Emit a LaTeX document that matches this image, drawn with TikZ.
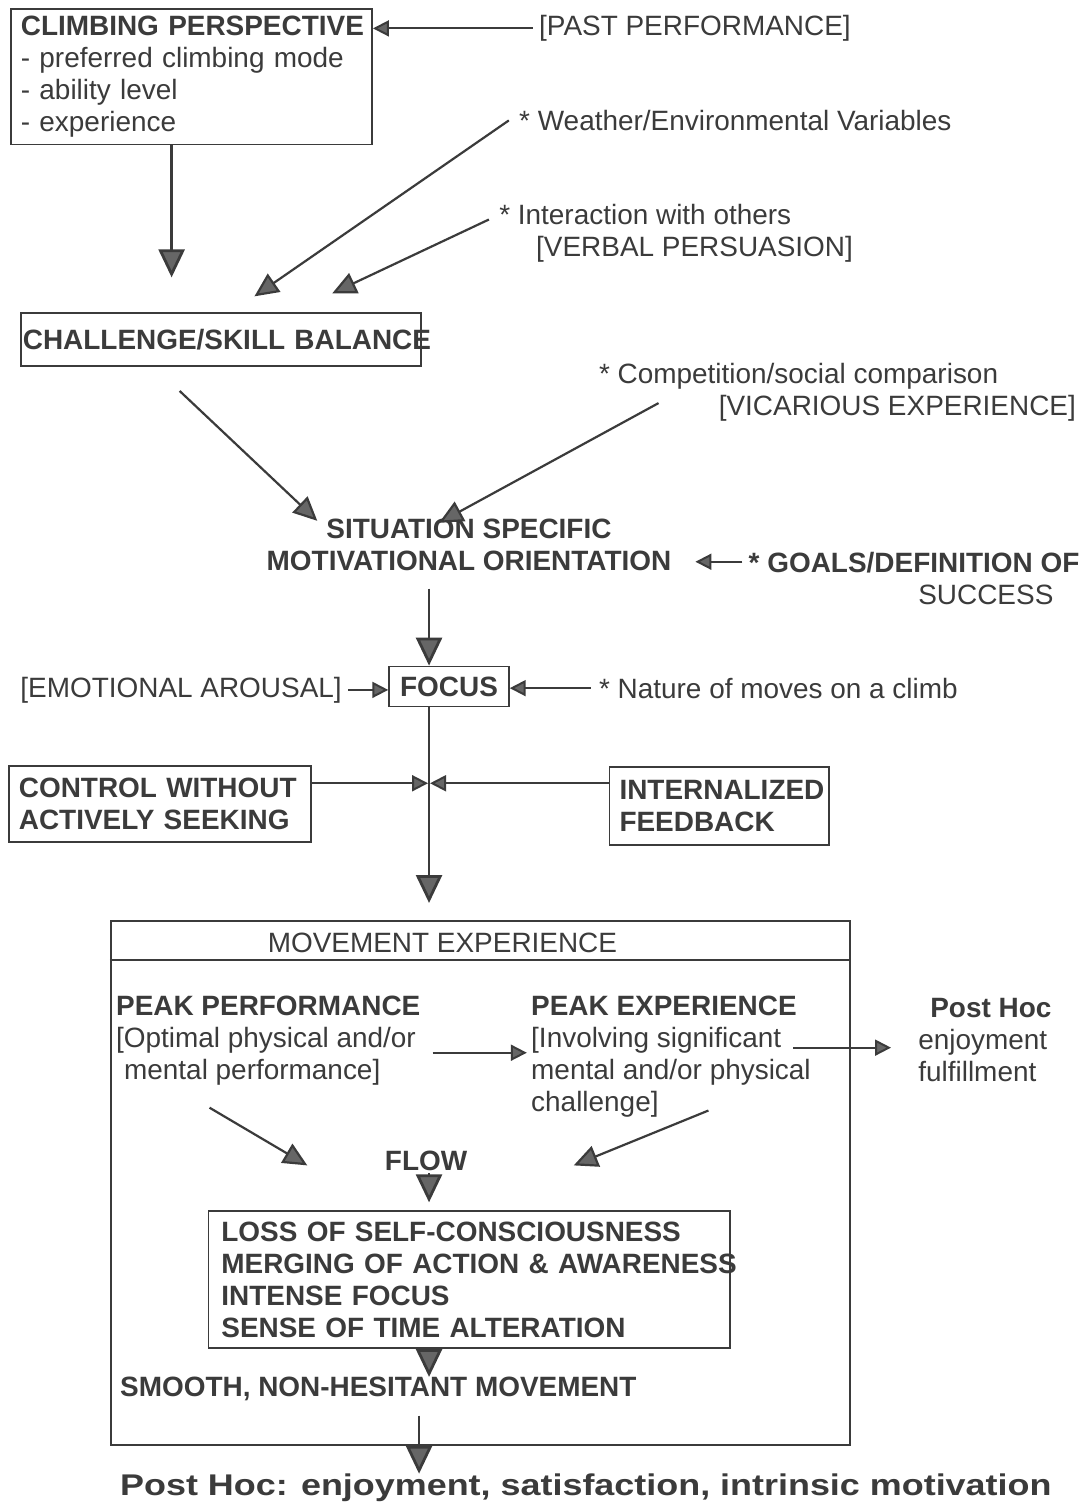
\documentclass[tikz,border=0pt]{standalone}
\usepackage{fontspec}
\setmainfont{Liberation Sans}
\usepackage{graphicx}
\usepackage{tikz}
\usetikzlibrary{calc, arrows.meta}
\definecolor{ink}{HTML}{3b3b3b}
\definecolor{headgray}{HTML}{666666}
\newcommand{\diagfont}{\fontsize{14}{16}\selectfont}
\tikzset{>={Triangle[width=8pt,length=8pt,fill=headgray]}}
\tikzset{
  box/.style={draw=ink, line width=0.9pt, text=ink, anchor=north west, align=left,
    inner xsep=5pt, inner ysep=0pt, font=\diagfont},
  lbl/.style={text=ink, inner sep=0pt, anchor=north west, align=left, font=\diagfont},
  lblb/.style={lbl, font=\diagfont\bfseries},
  arr/.style={->, draw=ink, line width=1pt},
  midarr/.style={-{Triangle[width=11pt,length=12pt,fill=headgray]}, draw=ink, line width=1.1pt},
  bigarr/.style={-{Triangle[width=13pt,length=14pt,fill=headgray]}, draw=ink, line width=1.4pt},
}

\begin{document}
\begin{tikzpicture}[x=0.5pt, y=-0.5pt]
	\fill[white] (0,0) rectangle (1085,1502);

	% climbing perspective and its inputs
	\node[box, minimum width=181pt, minimum height=68pt, text width=171pt] (cp) at (10,8)
		{\mbox{\bfseries CLIMBING PERSPECTIVE}\\- preferred climbing mode\\- ability level\\- experience};
	\node[lbl] (past) at (540,15) {[PAST PERFORMANCE]};
	\draw[arr] ($(past.west)+(-3pt,0)$) -- (past.west -| cp.east);
	\node[lbl] (weather) at (520,110) {* Weather/Environmental Variables};
	\node[lbl] (inter) at (500,204) {* Interaction with others\\\hspace*{18.5pt}[VERBAL PERSUASION]};
	\node[box, minimum width=200.5pt, minimum height=26.5pt, text width=198.5pt, inner xsep=1pt] (csb) at (20,313)
		{\mbox{\bfseries CHALLENGE/SKILL BALANCE}};
	\coordinate (cpend) at (172,278);
	\coordinate (wthend) at (255,297);
	\coordinate (intend) at (333,294);
	\draw[bigarr] (cpend |- cp.south) -- (cpend);
	\draw[midarr] ($(weather.west)+(-5pt,0)$) -- (wthend);
	\draw[midarr] ($(inter.north west)+(-5pt,-8pt)$) -- (intend);

	% situation specific motivational orientation
	\node[lbl] (comp) at (600,364) {* Competition/social comparison\\\hspace*{60pt}[VICARIOUS EXPERIENCE]};
	\node[lblb, align=center, anchor=north] (sso) at (470,520) {SITUATION SPECIFIC\\MOTIVATIONAL ORIENTATION};
	\node[lblb] (goals) at (750,553) {* GOALS/DEFINITION OF\\\hspace*{85pt}{\mdseries SUCCESS}};
	\coordinate (ssoleft) at (318,522);
	\coordinate (ssoright) at (440,524);
	\coordinate (goalsend) at (697,563);
	\draw[midarr] ($(csb.south west)+(80pt,-12pt)$) -- (ssoleft);
	\draw[midarr] ($(comp.north west)+(30pt,-20pt)$) -- (ssoright);
	\draw[arr] ($(goals.north west)+(-3pt,-5pt)$) -- (goalsend);

	% focus and the crossing
	\node[box, anchor=center, minimum width=60pt, minimum height=20pt, inner xsep=0pt, font=\diagfont\bfseries] (focus) at (450,688) {FOCUS};
	\node[lbl] (arousal) at (20,678) {[EMOTIONAL AROUSAL]};
	\node[lbl] (nature) at (600,679) {* Nature of moves on a climb};
	\coordinate (ssout) at (430,590);
	\coordinate (cross) at (430,785);
	\coordinate (spineend) at (430,905);
	\draw[bigarr] (ssout) -- (ssout |- focus.north);
	\draw[arr] ($(arousal.east)+(3pt,0)$) -- (arousal.east -| focus.west);
	\draw[arr] ($(nature.west)+(-4pt,0)$) -- (nature.west -| focus.east);
	\draw[bigarr] (focus.south -| cross) -- (spineend);
	\node[box, minimum width=151.5pt, minimum height=38pt, text width=141.5pt, font=\diagfont\bfseries] (ctrl) at (8,767)
		{CONTROL WITHOUT\\ACTIVELY SEEKING};
	\node[box, minimum width=110pt, minimum height=39pt, text width=100pt, font=\diagfont\bfseries] (intf) at (610,768)
		{INTERNALIZED\\FEEDBACK};
	\draw[arr] (ctrl.east |- cross) -- ($(cross)+(-0.5pt,0)$);
	\draw[arr] (intf.west |- cross) -- ($(cross)+(0.5pt,0)$);

	% movement experience
	\node[box, minimum width=370.5pt, minimum height=262.5pt] (move) at (110,922) {};
	\draw[ink, line width=0.9pt] (move.north west) ++(0,40) -- ++(741,0);
	\node[lbl] (movehd) at (268,935) {MOVEMENT EXPERIENCE};
	\node[lbl] (pperf) at (116,998) {\textbf{PEAK PERFORMANCE}\\{}[Optimal physical and/or\\\hspace*{4pt}mental performance]};
	\node[lbl] (pexp) at (532,998) {\textbf{PEAK EXPERIENCE}\\{}[Involving significant\\mental and/or physical\\challenge]};
	\node[lbl] (posthoc) at (920,1000) {\hspace*{6pt}\textbf{Post Hoc}\\enjoyment\\fulfillment};
	\draw[arr] ($(pperf.east)+(6pt,-6pt)$) -- ($(pperf.east -| pexp.west)+(-2pt,-6pt)$);
	\draw[arr] ($(pexp.north west)+(131.5pt,-26pt)$) -- ($(pexp.north west -| posthoc.west)+(-13.5pt,-26pt)$);
	\coordinate (flowl) at (308,1168);
	\coordinate (flowr) at (575,1168);
	\draw[midarr] ($(pperf.south west)+(47pt,-11pt)$) -- (flowl);
	\draw[midarr] ($(pexp.north west)+(89pt,-57.5pt)$) -- (flowr);
	\node[lblb, anchor=north] (flow) at (427,1153) {FLOW};
	\node[box, minimum width=261.5pt, minimum height=68.5pt, text width=248.5pt, inner xsep=6.5pt, font=\diagfont\bfseries] (fbox) at (208,1213)
		{LOSS OF SELF-CONSCIOUSNESS\\\mbox{MERGING OF ACTION \& AWARENESS}\\INTENSE FOCUS\\SENSE OF TIME ALTERATION};
	\draw[bigarr] ($(flow.south)+(1.5pt,-1pt)$) -- ($(flow.south |- fbox.north)+(1.5pt,4pt)$);
	\node[lblb] (smooth) at (120,1380) {SMOOTH, NON-HESITANT MOVEMENT};
	\draw[bigarr] ($(fbox.south west)+(111pt,0)$) coordinate (fbout) -- (fbout |- smooth.north);

	% result
	\node[lbl, font=\fontsize{15}{17}\selectfont\bfseries] (final) at (120,1477)
		{\scalebox{1.2}[1]{Post Hoc: enjoyment, satisfaction, intrinsic motivation}};
	\draw[bigarr] ($(move.south west)+(155pt,15pt)$) coordinate (moveout) -- (moveout |- final.north);
\end{tikzpicture}
\end{document}
